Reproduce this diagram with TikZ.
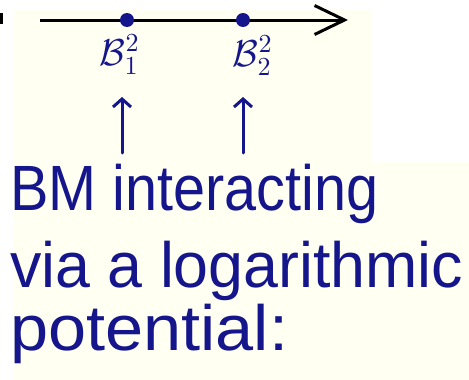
\documentclass[tikz,border=0pt]{standalone}
\usepackage{fontspec}
\setmainfont{Liberation Sans}
\usetikzlibrary{arrows.meta}
\definecolor{ink}{RGB}{22,22,140}
\definecolor{cream}{RGB}{255,255,242}
\tikzset{
  handtext/.style={anchor=base west, inner sep=0pt, text=ink, font=\fontsize{64}{64}\selectfont},
  lab/.style={inner sep=0pt, text=ink, font=\fontsize{14}{14}\selectfont},
  uparrow/.style={draw=ink, line width=3pt, line cap=round, -{Straight Barb[length=8pt,width=18pt,line width=3pt]}},
  axis/.style={draw=black, line width=3pt, -{Straight Barb[length=30pt,width=29pt,line width=3pt]}},
  dot/.style={circle, fill=ink, minimum size=14pt, inner sep=0pt}
}
\begin{document}
\begin{tikzpicture}[x=1pt,y=-1pt]
\useasboundingbox (0,0) rectangle (469,380);
\fill[white] (0,0) rectangle (469,380);
\fill[cream] (13,9) rectangle (372,380);
\fill[cream] (13,162) rectangle (469,380);
\fill[black] (0,13) rectangle (3,24);
% axis
\coordinate (axL) at (40,20);
\coordinate (axR) at (348,20);
\draw[axis] (axL) -- (axR);
\node[dot] (d1) at (127,20) {};
\node[dot] (d2) at (243,20) {};
% labels
\node[lab] (b1) at (120,55) {\scalebox{2.6}{$\mathcal{B}^2_1$}};
\node[lab] (b2) at (253,56) {\scalebox{2.6}{$\mathcal{B}^2_2$}};
% arrows
\coordinate (a1s) at (122,153);
\coordinate (a1e) at (122,97);
\coordinate (a2s) at (243,153);
\coordinate (a2e) at (243,97);
\draw[uparrow] (a1s) -- (a1e);
\draw[uparrow] (a2s) -- (a2e);
% text
\node[handtext] (t1) at (10,210) {\scalebox{0.90}[1]{BM interacting}};
\node[handtext] (t2) at (10,287) {\scalebox{0.98}[1]{via a logarithmic}};
\node[handtext] (t3) at (10,350) {\scalebox{1.07}[1]{potential:}};
\end{tikzpicture}
\end{document}
